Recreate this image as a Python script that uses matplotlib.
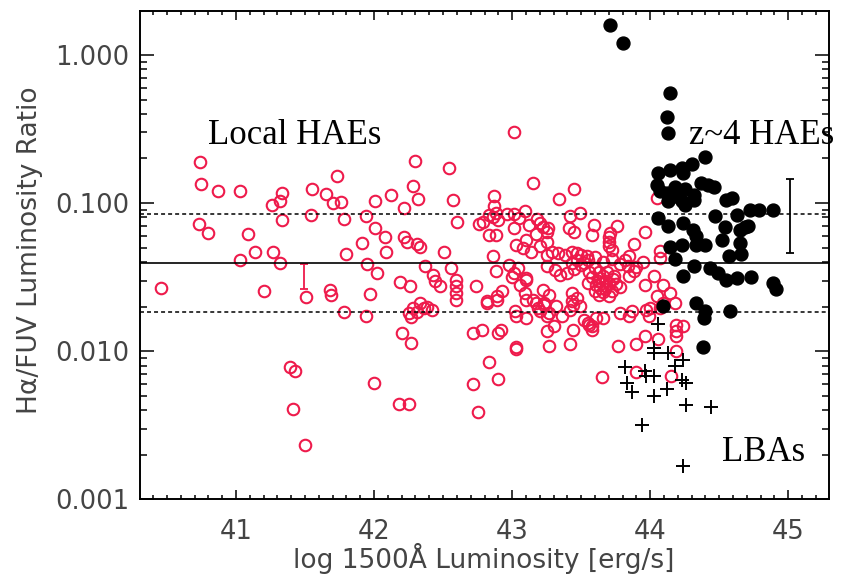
import matplotlib
matplotlib.use("Agg")
import matplotlib.pyplot as plt
import numpy as np
from matplotlib.ticker import MultipleLocator, LogLocator, FuncFormatter

# Local HAEs (red open circles): log L1500, Halpha/FUV ratio
local_x = [
    40.46, 40.74, 40.75, 40.87, 41.03, 40.73, 40.80, 41.09, 41.14, 41.03,
    41.27, 41.32, 41.33, 41.26, 41.32, 41.33, 41.20, 41.55, 41.65, 41.73,
    41.70, 41.76, 41.78, 41.54, 41.94, 42.01, 42.01, 41.80, 41.91, 41.95,
    42.02, 41.51, 41.68, 41.69, 41.97, 41.78, 41.94, 41.39, 41.43, 41.41,
    41.50, 42.00,
    42.12, 42.22, 42.28, 42.30, 42.32, 42.54, 42.57, 42.08, 42.22, 42.24,
    42.31, 42.33, 42.09, 42.51, 42.60, 42.19, 42.26, 42.37, 42.43, 42.44,
    42.48, 42.56, 42.59, 42.59, 42.59, 42.33, 42.36, 42.28, 42.25, 42.27,
    42.42, 42.31, 42.38, 42.20, 42.27, 42.18, 42.25, 42.59,
    42.72, 42.75, 42.83, 42.90, 43.03, 43.01, 43.15, 42.87, 42.87, 42.83,
    42.86, 42.90, 42.79, 42.76, 42.88, 42.96, 43.01, 43.09, 43.05, 42.83,
    42.88, 43.01, 43.18, 43.22, 43.26, 43.03, 43.10, 43.14, 43.20, 43.25,
    42.74, 42.82, 42.89, 42.93, 42.98, 43.01, 43.10, 43.09, 43.22, 43.27,
    43.10, 43.17, 43.23, 43.03, 43.10, 43.27, 43.32, 43.36, 42.72, 42.78,
    42.92, 42.90, 43.03, 43.27, 42.82, 42.89, 42.88, 43.04, 43.10, 43.00,
    43.06, 42.86, 43.12, 43.20, 43.17, 43.25, 43.08, 43.25, 43.02, 43.20,
    43.25, 43.30, 43.25, 43.29, 43.33, 43.38, 43.43, 43.47, 43.50, 43.54,
    43.47, 43.43, 43.52, 43.25, 43.31, 43.35, 43.40, 43.15, 43.19, 43.23,
    43.34, 43.45, 43.42, 43.49, 43.41, 43.45, 43.58, 43.70, 43.70, 43.70,
    43.71, 43.76, 43.88, 43.96, 44.05, 44.07, 44.07, 43.59, 43.42, 43.44,
    43.52, 43.55, 43.58, 43.66, 43.44, 43.58, 43.42, 43.65, 43.90, 44.15,
    43.77, 43.90, 43.96, 44.06, 44.19, 44.19, 44.19, 44.24, 44.19, 43.97,
    43.99, 43.87, 44.07, 44.09, 43.78, 43.85, 44.05, 44.14, 44.18, 43.85,
    43.96, 44.03, 44.09, 43.43, 43.47, 43.43, 43.49, 43.61, 43.56, 44.00,
    43.85, 43.84, 43.88,
    43.60, 43.63, 43.66, 43.69, 43.62, 43.65, 43.68, 43.64, 43.61, 43.67,
    43.70, 43.73, 43.75, 43.66, 43.72, 43.58, 43.55, 43.78, 43.63, 43.70,
    43.60, 43.68, 43.64, 43.56, 43.74, 43.72,
    43.55, 43.60, 43.66, 43.72, 43.78, 43.82, 43.90, 43.95, 43.50, 43.45,
]
local_y = [
    0.0267, 0.188, 0.134, 0.121, 0.121, 0.072, 0.0625, 0.0615, 0.0467, 0.0411,
    0.0467, 0.0391, 0.117, 0.0975, 0.103, 0.0772, 0.0256, 0.125, 0.116, 0.153,
    0.100, 0.102, 0.078, 0.083, 0.082, 0.103, 0.068, 0.0455, 0.0539, 0.0386,
    0.0339, 0.0231, 0.0258, 0.0241, 0.0244, 0.0183, 0.0174, 0.00786, 0.00734, 0.00404,
    0.00232, 0.0061,
    0.114, 0.092, 0.131, 0.191, 0.106, 0.173, 0.105, 0.059, 0.059, 0.0545,
    0.053, 0.0505, 0.047, 0.047, 0.074, 0.0295, 0.0274, 0.0375, 0.0328, 0.0297,
    0.0274, 0.0365, 0.0304, 0.0274, 0.0247, 0.0212, 0.0196, 0.0196, 0.0180, 0.0171,
    0.0190, 0.0183, 0.0200, 0.0133, 0.0114, 0.0044, 0.0044, 0.0223,
    0.0060, 0.0039, 0.0085, 0.0065, 0.0103, 0.301, 0.137, 0.112, 0.095, 0.083,
    0.080, 0.077, 0.075, 0.072, 0.086, 0.084, 0.084, 0.088, 0.079, 0.061,
    0.061, 0.068, 0.078, 0.069, 0.068, 0.0524, 0.0566, 0.047, 0.051, 0.0448,
    0.0275, 0.0218, 0.0237, 0.0255, 0.0384, 0.0339, 0.0311, 0.0246, 0.0260, 0.0241,
    0.0223, 0.0212, 0.0212, 0.0172, 0.0167, 0.0182, 0.0201, 0.0172, 0.0133, 0.0140,
    0.0140, 0.0133, 0.0106, 0.0108, 0.0211, 0.0223, 0.0346, 0.0363, 0.0304, 0.0316,
    0.0281, 0.0436, 0.0714, 0.073, 0.062, 0.0638, 0.050, 0.0543, 0.0186, 0.0186,
    0.0172, 0.0148, 0.0137, 0.047, 0.046, 0.0448, 0.047, 0.046, 0.0448, 0.0436,
    0.0415, 0.0395, 0.0395, 0.0375, 0.0355, 0.0328, 0.0337, 0.0223, 0.0197, 0.0206,
    0.107, 0.125, 0.082, 0.086, 0.068, 0.064, 0.0611, 0.059, 0.0545, 0.051,
    0.063, 0.070, 0.0526, 0.0636, 0.108, 0.0478, 0.0425, 0.0714, 0.0191, 0.0206,
    0.0163, 0.0156, 0.0148, 0.0168, 0.0140, 0.0140, 0.0111, 0.0067, 0.00725, 0.0068,
    0.0108, 0.0111, 0.0127, 0.0120, 0.00996, 0.0151, 0.0137, 0.0148, 0.0126, 0.0191,
    0.0172, 0.0186, 0.0197, 0.0212, 0.0182, 0.0172, 0.0235, 0.0246, 0.0212, 0.0323,
    0.0281, 0.0323, 0.0281, 0.0246, 0.0230, 0.0218, 0.0202, 0.0168, 0.0151, 0.0195,
    0.0437, 0.0375, 0.0346,
    0.0365, 0.0345, 0.0320, 0.0340, 0.0300, 0.0290, 0.0275, 0.0268, 0.0278, 0.0262,
    0.0290, 0.0305, 0.0285, 0.0250, 0.0255, 0.0315, 0.0290, 0.0270, 0.0240, 0.0235,
    0.0255, 0.0300, 0.0310, 0.0340, 0.0320, 0.0480,
    0.041, 0.043, 0.040, 0.042, 0.0385, 0.041, 0.037, 0.040, 0.038, 0.036,
]

# z~4 HAEs (black filled circles)
z4_x = [
    43.71, 43.80, 44.14, 44.12, 44.13, 44.40, 44.06, 44.14, 44.23, 44.24,
    44.30, 44.05, 44.07, 44.12, 44.18, 44.25, 44.32, 44.37, 44.42, 44.46,
    44.13, 44.18, 44.25, 44.32, 44.55, 44.59, 44.72, 44.79, 44.89, 44.06,
    44.47, 44.63, 44.69, 44.71, 44.13, 44.24, 44.31, 44.33, 44.54, 44.65,
    44.14, 44.23, 44.33, 44.40, 44.52, 44.57, 44.66, 44.18, 44.32, 44.43,
    44.49, 44.55, 44.63, 44.73, 44.89, 44.91, 44.24, 44.33, 44.09, 44.40,
    44.39, 44.58, 44.38, 44.23, 44.65,
]
z4_y = [
    1.59, 1.20, 0.557, 0.380, 0.296, 0.206, 0.159, 0.168, 0.173, 0.159,
    0.184, 0.133, 0.120, 0.117, 0.129, 0.125, 0.114, 0.136, 0.133, 0.129,
    0.103, 0.111, 0.0975, 0.105, 0.105, 0.108, 0.0902, 0.0902, 0.0902, 0.0790,
    0.0813, 0.0834, 0.0686, 0.0696, 0.0696, 0.0734, 0.0661, 0.0600, 0.0686, 0.0661,
    0.0509, 0.0524, 0.0524, 0.0524, 0.0566, 0.0440, 0.0454, 0.0418, 0.0375, 0.0365,
    0.0338, 0.0304, 0.0312, 0.0317, 0.0287, 0.0261, 0.0323, 0.0212, 0.0201, 0.0186,
    0.0167, 0.0186, 0.0107, 0.103, 0.0538,
]

# LBAs (plus signs)
lba_x = [
    44.06, 44.03, 44.03, 44.13, 44.24, 44.18, 43.82, 43.96, 43.97, 44.03,
    43.83, 43.87, 44.03, 44.12, 44.23, 44.26, 44.26, 44.44, 43.94, 44.24,
]
lba_y = [
    0.0153, 0.0105, 0.00966, 0.00971, 0.00878, 0.00794, 0.00786, 0.0073, 0.00676, 0.00676,
    0.00609, 0.00529, 0.00502, 0.00556, 0.00643, 0.0061, 0.00436, 0.00420, 0.00315, 0.00169,
]

# median ratio and +/- scatter
ratio_mid = 0.0395
ratio_hi = 0.0845
ratio_lo = 0.0183

# typical error bars
local_err_x, local_err_lo, local_err_hi = 41.49, 0.0264, 0.0388
z4_err_x, z4_err_lo, z4_err_hi = 45.01, 0.046, 0.145

red = "#ee1a4b"
gray = "#444444"

fig = plt.figure(figsize=(8.44, 5.77), dpi=100)
ax = fig.add_axes([140 / 844, 1 - 499.3 / 577, 689.3 / 844, 488.3 / 577])

ax.plot(local_x, local_y, "o", mfc="none", mec=red, ms=8.3, mew=1.5, ls="none")
ax.plot(z4_x, z4_y, "o", color="black", ms=9.3, ls="none")
ax.plot(lba_x, lba_y, "+", color="black", ms=9.5, mew=1.4, ls="none")

ax.axhline(ratio_mid, color="black", lw=1.2, zorder=3)
ax.axhline(ratio_hi, color="black", lw=1.1, ls=(0, (2.6, 2)), zorder=3)
ax.axhline(ratio_lo, color="black", lw=1.1, ls=(0, (2.6, 2)), zorder=3)

for ex, lo, hi, c in [(local_err_x, local_err_lo, local_err_hi, red),
                      (z4_err_x, z4_err_lo, z4_err_hi, "black")]:
    mid = np.sqrt(lo * hi)
    ax.errorbar([ex], [mid], yerr=[[mid - lo], [hi - mid]], fmt="none",
                ecolor=c, elinewidth=1.3, capsize=3.2, capthick=1.3)

serif = dict(family="Liberation Serif", fontsize=25, color="black", va="baseline", clip_on=False)
ax.text(40.80, 0.251, "Local HAEs", **serif)
ax.text(44.28, 0.251, "z~4 HAEs", **serif)
ax.text(44.52, 0.00181, "LBAs", **serif)

ax.set_yscale("log")
ax.set_xlim(40.305, 45.297)
ax.set_ylim(0.001, 1.98)

ax.xaxis.set_major_locator(MultipleLocator(1))
ax.xaxis.set_minor_locator(MultipleLocator(0.1))
ax.yaxis.set_major_locator(LogLocator(base=10, numticks=10))
ax.yaxis.set_minor_locator(LogLocator(base=10, subs=np.arange(2, 10), numticks=10))
ax.yaxis.set_major_formatter(FuncFormatter(lambda v, p: f"{v:.3f}"))

ax.tick_params(which="both", direction="in", top=True, right=True, width=1.1,
               labelsize=18.5, labelcolor=gray)
ax.tick_params(axis="x", which="major", length=6.5, pad=14)
ax.tick_params(axis="x", which="minor", length=3)
ax.tick_params(axis="y", which="major", length=10, pad=8)
ax.tick_params(axis="y", which="minor", length=5)
for s in ax.spines.values():
    s.set_linewidth(1.4)

fig.text(483.5 / 844, 1 - 558 / 577, "log 1500Å Luminosity [erg/s]",
         ha="center", va="center", fontsize=19, color=gray)
fig.text(30 / 844, 1 - 250 / 577, "Hα/FUV Luminosity Ratio",
         ha="center", va="center", rotation=90, fontsize=19, color=gray)

fig.savefig("out.png", dpi=100)
